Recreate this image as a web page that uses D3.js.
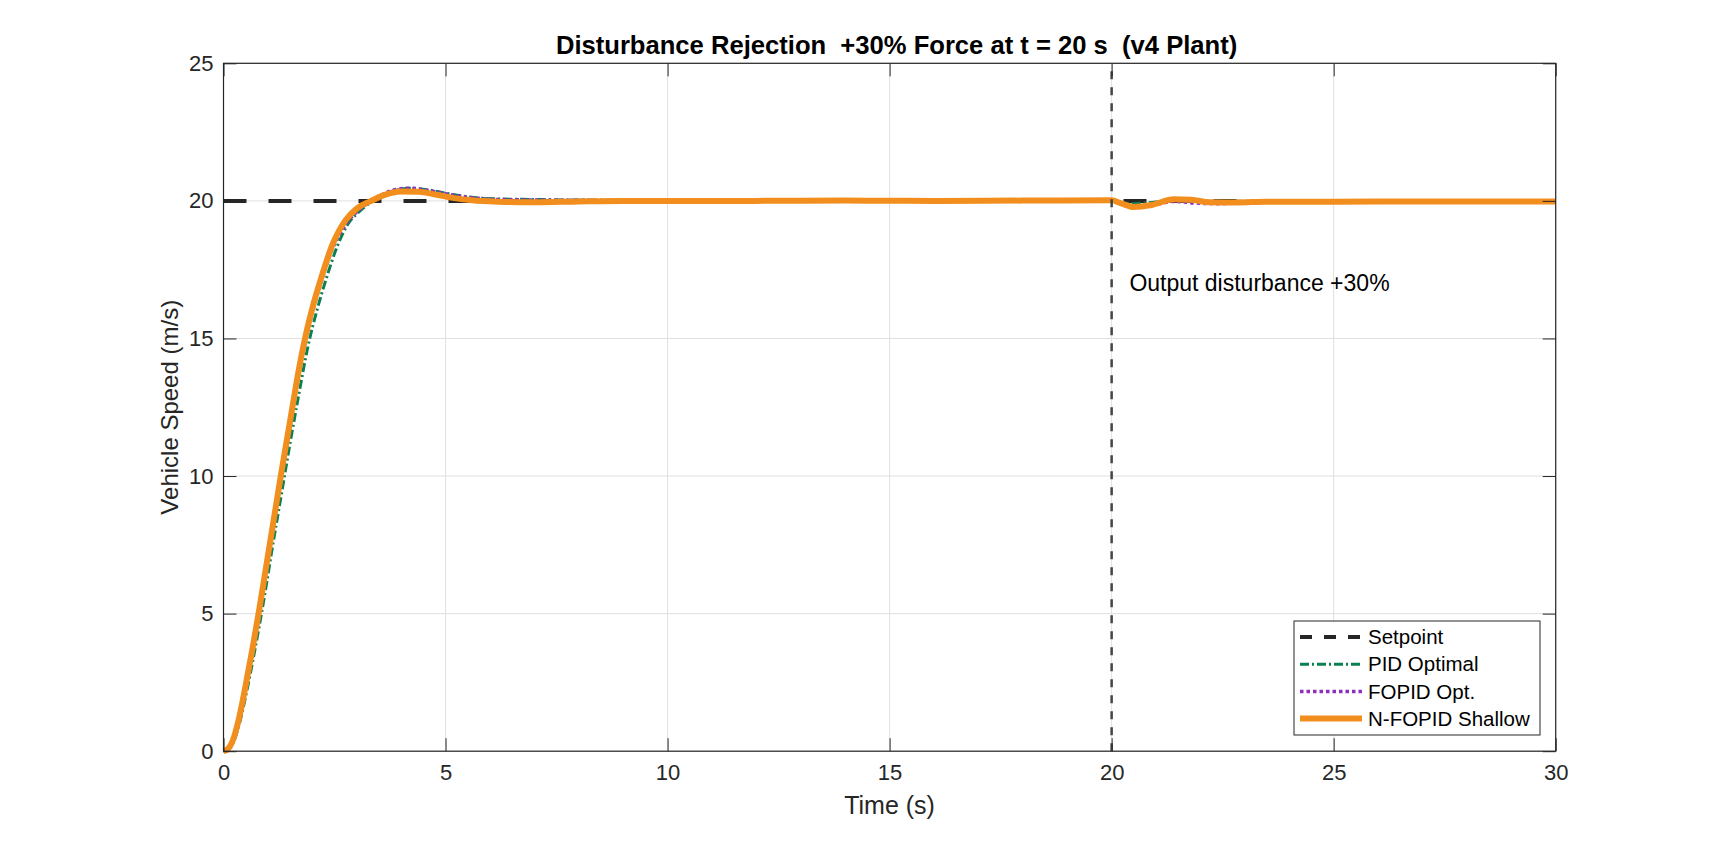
<!DOCTYPE html>
<html>
<head>
<meta charset="utf-8">
<script src="https://cdn.jsdelivr.net/npm/d3@7"></script>
<style>
body { margin: 0; background: #fff; }
svg { display: block; font-family: "Liberation Sans", Arial, sans-serif; }
</style>
</head>
<body>
<svg id="chart"></svg>
<script>
// axis ticks
var xTicks = [0, 5, 10, 15, 20, 25, 30]
var yTicks = [0, 5, 10, 15, 20, 25]

// setpoint
var spTime = [0, 30]
var spSpeed = [20, 20]

// PID Optimal
var pidTime = [0, 0.1, 0.2, 0.35, 0.5, 0.65, 0.8, 0.95, 1.1, 1.3, 1.5, 1.7, 1.9, 2.1, 2.3, 2.55, 2.8, 3.05, 3.3, 3.55, 3.8, 4.2, 4.6, 5.0, 5.5, 6.0, 7.0, 8, 10, 14, 18, 20, 20.2, 20.45, 20.8, 21.3, 22, 23, 25, 30]
var pidSpeed = [0, 0.05, 0.25, 0.95, 2.0, 3.2, 4.5, 5.9, 7.4, 9.3, 11.2, 13.0, 14.7, 16.0, 17.1, 18.3, 19.15, 19.6, 19.93, 20.18, 20.35, 20.46, 20.4, 20.28, 20.15, 20.08, 20.05, 20.03, 20.02, 20.02, 20.02, 20.02, 19.95, 19.9, 19.93, 20.0, 19.99, 19.99, 20.0, 20.0]

// FOPID Opt.
var fopidTime = [0, 0.1, 0.2, 0.35, 0.5, 0.65, 0.8, 0.95, 1.1, 1.3, 1.5, 1.7, 1.85, 2.0, 2.2, 2.45, 2.75, 3.0, 3.3, 3.6, 3.9, 4.2, 4.6, 5.0, 5.5, 6.0, 7.0, 8, 10, 14, 18, 20, 20.2, 20.5, 20.9, 21.4, 21.9, 22.4, 23, 24, 25, 30]
var fopidSpeed = [0, 0.07, 0.32, 1.15, 2.3, 3.6, 5.0, 6.5, 8.0, 9.95, 11.85, 13.75, 14.95, 15.95, 17.05, 18.25, 19.15, 19.6, 19.97, 20.25, 20.42, 20.46, 20.38, 20.26, 20.13, 20.06, 20.03, 20.02, 20.01, 20.01, 20.01, 20.01, 19.93, 19.8, 19.84, 19.98, 19.92, 19.9, 19.94, 19.97, 19.98, 19.98]

// N-FOPID Shallow
var nfopidTime = [0, 0.1, 0.2, 0.35, 0.5, 0.65, 0.8, 0.95, 1.1, 1.3, 1.5, 1.7, 1.85, 2.0, 2.2, 2.45, 2.75, 3.0, 3.3, 3.6, 4.0, 4.4, 4.8, 5.2, 5.6, 6.2, 7.0, 8.0, 9.0, 10, 12, 14, 16, 18, 20, 20.2, 20.5, 20.9, 21.4, 21.8, 22.2, 22.8, 23.5, 25, 27, 30]
var nfopidSpeed = [0, 0.08, 0.35, 1.2, 2.4, 3.7, 5.1, 6.6, 8.1, 10.1, 12.0, 13.9, 15.1, 16.1, 17.2, 18.4, 19.3, 19.72, 19.98, 20.2, 20.34, 20.33, 20.22, 20.1, 20.02, 19.97, 19.95, 19.98, 20.0, 20.0, 20.0, 20.01, 20.0, 20.01, 20.02, 19.92, 19.78, 19.85, 20.06, 20.04, 19.95, 19.94, 19.97, 19.97, 19.98, 19.98]

var seriesNames = ["Setpoint", "PID Optimal", "FOPID Opt.", "N-FOPID Shallow"]

// disturbance marker
var distTime = 20
var distLabel = "Output disturbance +30%"
var distLabelAt = [20.4, 17]

var zip = function(ts, vs)
{
    return ts.map(function(t, i) { return {t: t, v: vs[i]}; });
}

var styles = [
    {color: "#262626", width: 4, dash: "23 22", legendDash: "12 12"},
    {color: "#0b8050", width: 3, dash: "9 3 2 3", legendDash: "9 3 2 3"},
    {color: "#8e2fc0", width: 3.5, dash: "3.5 3", legendDash: "3.5 3"},
    {color: "#f28e1e", width: 6, dash: null, legendDash: null}
]

var initGraph = function(target)
{
    var screen = {width: 1719, height: 844}
    var margins = {top: 63.3, bottom: 92.8, left: 223.5, right: 163.3}
    var graph = {
        width: screen.width - margins.left - margins.right,
        height: screen.height - margins.top - margins.bottom
    }

    var svg = d3.select(target)
        .attr("width", screen.width)
        .attr("height", screen.height)

    var g = svg.append("g")
        .attr("transform", "translate(" + margins.left + "," + margins.top + ")")

    var xScale = d3.scaleLinear().domain([0, 30]).range([0, graph.width])
    var yScale = d3.scaleLinear().domain([0, 25]).range([graph.height, 0])

    // grid
    g.append("g").selectAll("line").data(xTicks).enter().append("line")
        .attr("x1", function(d) { return xScale(d); })
        .attr("x2", function(d) { return xScale(d); })
        .attr("y1", 0).attr("y2", graph.height)
        .attr("stroke", "#dfdfdf").attr("stroke-width", 1)
    g.append("g").selectAll("line").data(yTicks).enter().append("line")
        .attr("y1", function(d) { return yScale(d); })
        .attr("y2", function(d) { return yScale(d); })
        .attr("x1", 0).attr("x2", graph.width)
        .attr("stroke", "#dfdfdf").attr("stroke-width", 1)

    var line = d3.line()
        .x(function(d) { return xScale(d.t); })
        .y(function(d) { return yScale(d.v); })
        .curve(d3.curveMonotoneX)

    var data = [zip(spTime, spSpeed), zip(pidTime, pidSpeed), zip(fopidTime, fopidSpeed), zip(nfopidTime, nfopidSpeed)]

    var plot = g.append("g")
    data.forEach(function(series, i)
    {
        var s = styles[i]
        plot.append("path")
            .datum(series)
            .attr("d", line)
            .attr("fill", "none")
            .attr("stroke", s.color)
            .attr("stroke-width", s.width)
            .attr("stroke-dasharray", s.dash)
            .attr("stroke-linejoin", "round")
    })

    // disturbance line
    g.append("line")
        .attr("x1", xScale(distTime)).attr("x2", xScale(distTime))
        .attr("y1", yScale(0)).attr("y2", yScale(25))
        .attr("stroke", "#444").attr("stroke-width", 2.5)
        .attr("stroke-dasharray", "8 8")

    g.append("text")
        .attr("x", xScale(distLabelAt[0]))
        .attr("y", yScale(distLabelAt[1]))
        .attr("dy", "0.35em")
        .attr("font-size", 23)
        .attr("fill", "#000")
        .text(distLabel)

    // axes
    var xAxis = d3.axisBottom(xScale).tickValues(xTicks).tickSizeInner(-13).tickSizeOuter(0).tickPadding(13)
    var yAxis = d3.axisLeft(yScale).tickValues(yTicks).tickSizeInner(-13).tickSizeOuter(0).tickPadding(10)
    var xTop = d3.axisTop(xScale).tickValues(xTicks).tickSizeInner(-13).tickSizeOuter(0).tickFormat("")
    var yRight = d3.axisRight(yScale).tickValues(yTicks).tickSizeInner(-13).tickSizeOuter(0).tickFormat("")

    var axes = g.append("g").classed("axis", true)
    axes.append("g").attr("transform", "translate(0," + graph.height + ")").call(xAxis)
    axes.append("g").call(yAxis)
    axes.append("g").call(xTop)
    axes.append("g").attr("transform", "translate(" + graph.width + ",0)").call(yRight)

    axes.selectAll(".domain").remove()
    axes.selectAll("line").attr("stroke", "#262626")
    axes.selectAll("text")
        .attr("font-size", 22)
        .attr("fill", "#262626")
        .attr("font-family", "Liberation Sans, Arial, sans-serif")

    g.append("rect")
        .attr("x", 0).attr("y", 0)
        .attr("width", graph.width).attr("height", graph.height)
        .attr("fill", "none").attr("stroke", "#262626").attr("stroke-width", 1.2)

    // labels
    svg.append("text")
        .attr("x", margins.left + graph.width / 2 + 7).attr("y", 54)
        .attr("text-anchor", "middle")
        .attr("font-size", 25.6).attr("font-weight", "bold")
        .style("white-space", "pre")
        .text("Disturbance Rejection  +30% Force at t = 20 s  (v4 Plant)")

    svg.append("text")
        .attr("x", margins.left + graph.width / 2).attr("y", 814)
        .attr("text-anchor", "middle")
        .attr("font-size", 25).attr("fill", "#262626")
        .text("Time (s)")

    svg.append("text")
        .attr("transform", "translate(178," + (margins.top + graph.height / 2) + ") rotate(-90)")
        .attr("text-anchor", "middle")
        .attr("font-size", 24).attr("fill", "#262626")
        .text("Vehicle Speed (m/s)")

    // legend
    var leg = svg.append("g").attr("transform", "translate(1294,621)")
    leg.append("rect")
        .attr("width", 246).attr("height", 114)
        .attr("fill", "#fff").attr("stroke", "#262626").attr("stroke-width", 1)
    seriesNames.forEach(function(name, i)
    {
        var s = styles[i]
        var y = 16 + i * 27.2
        leg.append("line")
            .attr("x1", 6).attr("x2", 68).attr("y1", y).attr("y2", y)
            .attr("stroke", s.color)
            .attr("stroke-width", s.width)
            .attr("stroke-dasharray", s.legendDash)
        leg.append("text")
            .attr("x", 74).attr("y", y).attr("dy", "0.35em")
            .attr("font-size", 20.5).attr("fill", "#000")
            .text(name)
    })
}

initGraph("#chart")
</script>
</body>
</html>
